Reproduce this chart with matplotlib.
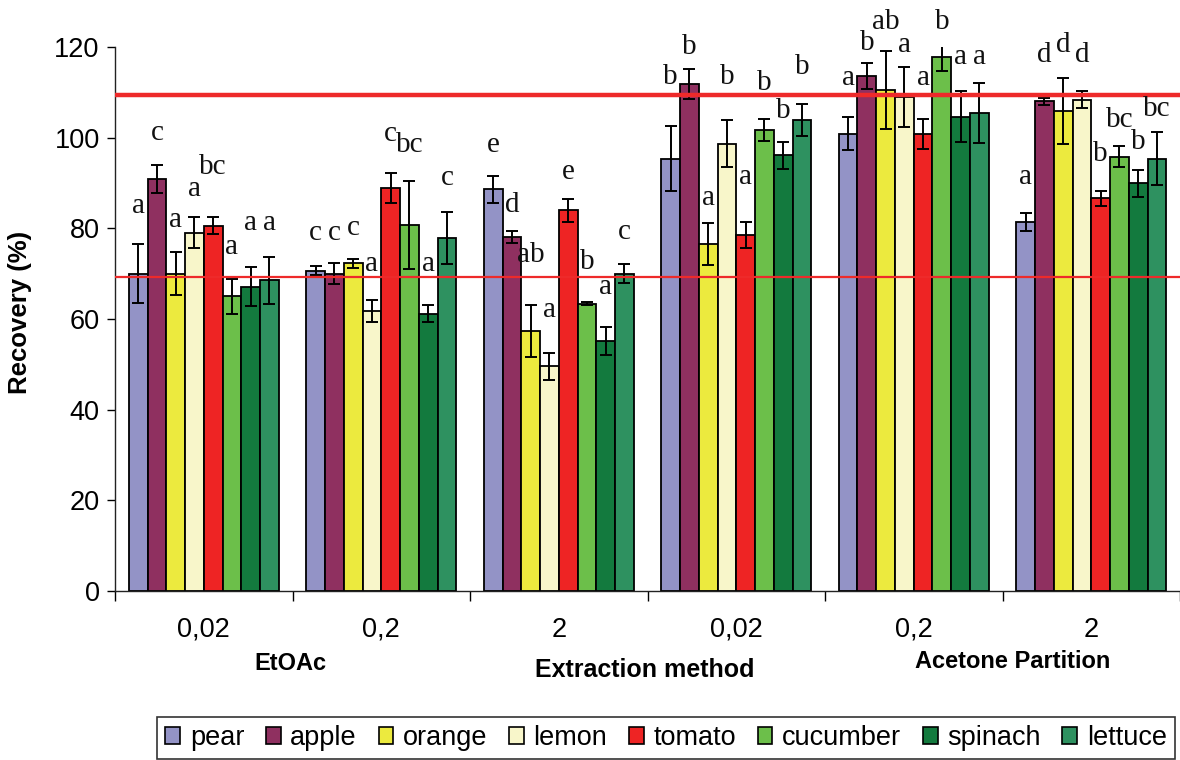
import numpy as np
import matplotlib
matplotlib.use("Agg")
import matplotlib.pyplot as plt
from matplotlib.patches import Patch
from matplotlib import font_manager

# --- data --------------------------------------------------------------
groups = ["0,02", "0,2", "2", "0,02", "0,2", "2"]
samples = ["pear", "apple", "orange", "lemon", "tomato", "cucumber", "spinach", "lettuce"]
colors = ["#9393C6", "#8F3060", "#ECEA3E", "#F8F6CA", "#EE2424", "#6CBF4A", "#137A3E", "#2E9160"]

pear = [70.0, 70.6, 88.6, 95.4, 100.9, 81.4]
apple = [90.8, 70.0, 78.1, 111.9, 113.6, 108.0]
orange = [70.0, 72.3, 57.4, 76.5, 110.5, 105.9]
lemon = [79.0, 61.7, 49.6, 98.7, 109.0, 108.4]
tomato = [80.6, 88.8, 84.0, 78.5, 100.9, 86.6]
cucumber = [65.0, 80.7, 63.4, 101.7, 117.7, 95.8]
spinach = [67.1, 61.2, 55.2, 96.1, 104.6, 89.9]
lettuce = [68.5, 77.9, 70.0, 103.9, 105.5, 95.4]
means = [pear, apple, orange, lemon, tomato, cucumber, spinach, lettuce]

err_pear = [6.5, 1.0, 3.0, 7.1, 3.7, 2.0]
err_apple = [3.1, 2.3, 1.3, 3.3, 2.9, 0.8]
err_orange = [4.8, 1.0, 5.7, 4.6, 8.6, 7.2]
err_lemon = [3.4, 2.4, 3.0, 5.1, 6.6, 1.9]
err_tomato = [1.8, 3.3, 2.5, 2.9, 3.3, 1.7]
err_cucumber = [3.8, 9.7, 0.3, 2.4, 3.1, 2.3]
err_spinach = [4.3, 1.9, 3.1, 3.0, 5.6, 2.9]
err_lettuce = [5.2, 5.8, 2.1, 3.5, 6.6, 5.9]
errs = [err_pear, err_apple, err_orange, err_lemon, err_tomato, err_cucumber, err_spinach, err_lettuce]

# significance letters and the height they sit at
letters = [
    ["a", "c", "e", "b", "a", "a"],
    ["c", "c", "d", "b", "b", "d"],
    ["a", "c", "ab", "a", "ab", "d"],
    ["a", "a", "a", "b", "a", "d"],
    ["bc", "c", "e", "a", "a", "b"],
    ["a", "bc", "b", "b", "b", "bc"],
    ["a", "a", "a", "b", "a", "b"],
    ["a", "c", "c", "b", "a", "bc"],
]
letter_y = [
    [85, 78.9, 98.3, 113.4, 113.1, 91.4],
    [101, 78.9, 85.1, 120, 120.8, 118.2],
    [81.8, 80, 74.1, 86.6, 125.5, 120.4],
    [88.6, 72.1, 62, 113.4, 120.4, 118.2],
    [93.6, 100.9, 92.5, 91.4, 113.1, 96.5],
    [75.9, 98.3, 72.6, 112, 125.5, 103.9],
    [81.1, 72.1, 67, 105.9, 117.8, 99.1],
    [81.1, 91, 79.2, 115.6, 117.8, 106.4],
]
limit_hi, limit_lo = 109.5, 69.2

# --- plot ----------------------------------------------------------------
plt.rcParams["font.family"] = ["Liberation Sans", "DejaVu Sans"]
installed = {f.name for f in font_manager.fontManager.ttflist}
narrow = "Liberation Sans Narrow" in installed
leg_family = "Liberation Sans Narrow" if narrow else "Liberation Sans"

fig = plt.figure(figsize=(11.8, 7.6), dpi=100)
ax = fig.add_axes([115 / 1180, 1 - 591 / 760, 1065 / 1180, 544 / 760])

centers = np.arange(len(groups)) + 0.5
w = 18.75 / 177.5
for i, name in enumerate(samples):
    x = centers + (i - 3.5) * w
    ax.bar(x, means[i], width=w, color=colors[i], edgecolor="black", linewidth=1.3,
           label=name, zorder=2)
    ax.errorbar(x, means[i], yerr=errs[i], fmt="none", ecolor="black", elinewidth=1.4,
                capsize=4.5, capthick=1.4, zorder=3)
    for xi, lab, ly in zip(x, letters[i], letter_y[i]):
        ax.text(xi, ly, lab, ha="center", va="center", fontsize=21,
                family="Liberation Serif", color="#111111", clip_on=False, zorder=5)

ax.axhline(limit_hi, color="#EE2A2A", lw=3.2, zorder=4)
ax.axhline(limit_lo, color="#EE2A2A", lw=1.6, zorder=4)

ax.set_xlim(0, len(groups))
ax.set_ylim(0, 120)
ax.set_yticks(np.arange(0, 121, 20))
ax.tick_params(axis="y", labelsize=19.5, length=6, width=1, pad=5)
ax.set_xticks(np.arange(len(groups) + 1))
ax.set_xticklabels([])
ax.tick_params(axis="x", length=7, width=1)
for s in ["top", "right"]:
    ax.spines[s].set_visible(False)
for s in ["left", "bottom"]:
    ax.spines[s].set_linewidth(1.0)
    ax.spines[s].set_color("#222222")

tr = ax.get_xaxis_transform()
for c, g in zip(centers, groups):
    ax.text(c, (591 - 630) / 544, g, ha="center", va="center", fontsize=19.5, transform=tr)

fig.text(290 / 1180, 1 - 663 / 760, "EtOAc", ha="center", va="center", fontsize=17, fontweight="bold")
fig.text(645 / 1180, 1 - 670 / 760, "Extraction method", ha="center", va="center", fontsize=18,
         fontweight="bold")
fig.text(1013 / 1180, 1 - 662 / 760, "Acetone Partition", ha="center", va="center", fontsize=17,
         fontweight="bold")
fig.text(20 / 1180, 1 - 312 / 760, "Recovery (%)", ha="center", va="center", rotation=90,
         fontsize=18.5, fontweight="bold")

handles = [Patch(facecolor=c, edgecolor="black", linewidth=1.2) for c in colors]
leg = fig.legend(handles, samples, loc="upper center", bbox_to_anchor=(666 / 1180, 1 - 717 / 760),
                 ncol=8, prop=dict(family=leg_family, size=21 if narrow else 19.5),
                 frameon=True, fancybox=False, handlelength=0.55, handleheight=0.55,
                 handletextpad=0.35, columnspacing=0.8, borderpad=0.3, borderaxespad=0)
leg.get_frame().set_edgecolor("black")
leg.get_frame().set_linewidth(1.2)

fig.savefig("out.png", dpi=100)
